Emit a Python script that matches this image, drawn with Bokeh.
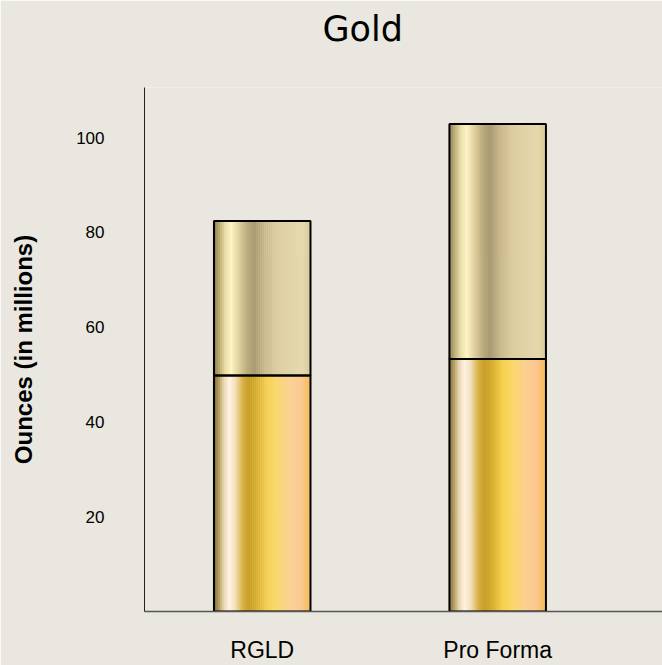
import numpy as np
from bokeh.plotting import figure
from bokeh.models import FixedTicker, Range1d, Title
from bokeh.embed import file_html
from bokeh.resources import INLINE

# ---- data ----
categories = ["RGLD", "Pro Forma"]
lower_values = [49.8, 53.3]      # gold lower segment (millions oz)
upper_values = [32.6, 49.6]      # upper segment stacked on top
y_ticks = [20, 40, 60, 80, 100]
title_text = "Gold"
y_label = "Ounces (in millions)"

BG = "#e9e7df"
bar_width = 0.41
n_strips = 48

lower_stops = [(0.00, "#7d6a35"), (0.04, "#a89050"), (0.10, "#e8d6b0"), (0.16, "#fff4e4"),
               (0.22, "#f4e0b8"), (0.30, "#d8b040"), (0.36, "#c69c22"), (0.45, "#dab030"),
               (0.55, "#f6d050"), (0.65, "#fad868"), (0.78, "#fcd090"), (0.90, "#fcc890"),
               (1.00, "#f8b850")]
upper_stops = [(0.00, "#8a7a48"), (0.05, "#b8a870"), (0.12, "#ece0a8"), (0.18, "#fff4c4"),
               (0.25, "#e4d4a0"), (0.35, "#b8a878"), (0.42, "#a89870"), (0.52, "#c8b88c"),
               (0.65, "#dccca0"), (0.80, "#e2d4a8"), (0.92, "#e6d8ac"), (1.00, "#d8c898")]


def hex2rgb(h):
    h = h.lstrip("#")
    return [int(h[i:i + 2], 16) for i in (0, 2, 4)]


def gradient(stops, t):
    pos = [s[0] for s in stops]
    rgb = np.array([hex2rgb(s[1]) for s in stops], dtype=float)
    cols = []
    for tt in t:
        c = [np.interp(tt, pos, rgb[:, k]) for k in range(3)]
        cols.append("#%02x%02x%02x" % tuple(int(round(v)) for v in c))
    return cols


p = figure(width=662, height=665, output_backend="svg", toolbar_location=None,
           x_range=Range1d(0, 2.2), y_range=Range1d(0, 110.6),
           min_border_left=144, min_border_right=0, min_border_top=87, min_border_bottom=54)
p.background_fill_color = BG
p.border_fill_color = BG
p.outline_line_color = None
p.grid.visible = False

centers = [i + 0.5 for i in range(len(categories))]
totals = [a + b for a, b in zip(lower_values, upper_values)]

t = (np.arange(n_strips) + 0.5) / n_strips
lc = gradient(lower_stops, t)
uc = gradient(upper_stops, t)

for c, lo, tot in zip(centers, lower_values, totals):
    edges = c - bar_width / 2 + np.arange(n_strips + 1) * bar_width / n_strips
    left = edges[:-1]
    right = edges[1:] + bar_width / n_strips * 0.15
    p.quad(left=left, right=right, bottom=[0] * n_strips, top=[lo] * n_strips,
           fill_color=lc, line_color=None)
    p.quad(left=left, right=right, bottom=[lo] * n_strips, top=[tot] * n_strips,
           fill_color=uc, line_color=None)

# outlines
p.quad(left=[c - bar_width / 2 for c in centers], right=[c + bar_width / 2 for c in centers],
       bottom=[0] * len(centers), top=lower_values,
       fill_color=None, line_color="black", line_width=2)
p.quad(left=[c - bar_width / 2 for c in centers], right=[c + bar_width / 2 for c in centers],
       bottom=lower_values, top=totals,
       fill_color=None, line_color="black", line_width=2)

# spacer between the title and the frame
p.add_layout(Title(text=" ", text_font_size="20px", text_color=BG), "above")

# title
p.title.text = title_text
p.title.text_font = "DejaVu Sans"
p.title.text_font_size = "35px"
p.title.text_font_style = "normal"
p.title.text_color = "black"
p.title.align = "left"
p.title.offset = 178

# x axis
p.xaxis.ticker = FixedTicker(ticks=centers)
p.xaxis.major_label_overrides = {c: name for c, name in zip(centers, categories)}
p.xaxis.major_label_text_font = "Liberation Sans"
p.xaxis.major_label_text_font_size = "23px"
p.xaxis.major_label_text_color = "black"
p.xaxis.major_label_standoff = 19
p.xaxis.major_tick_line_color = None
p.xaxis.minor_tick_line_color = None
p.xaxis.axis_line_color = "#555555"
p.xaxis.axis_line_width = 1.5

# y axis
p.yaxis.ticker = FixedTicker(ticks=y_ticks)
p.yaxis.major_label_text_font = "Liberation Sans"
p.yaxis.major_label_text_font_size = "17px"
p.yaxis.major_label_text_color = "black"
p.yaxis.major_label_standoff = 34
p.yaxis.major_tick_line_color = None
p.yaxis.minor_tick_line_color = None
p.yaxis.axis_line_color = "#222222"
p.yaxis.axis_line_width = 1
p.yaxis.axis_label = y_label
p.yaxis.axis_label_text_font = "Liberation Sans"
p.yaxis.axis_label_text_font_size = "24px"
p.yaxis.axis_label_text_font_style = "bold"
p.yaxis.axis_label_text_color = "black"
p.yaxis.axis_label_standoff = 36

open("out.html", "w").write(file_html(p, INLINE))
